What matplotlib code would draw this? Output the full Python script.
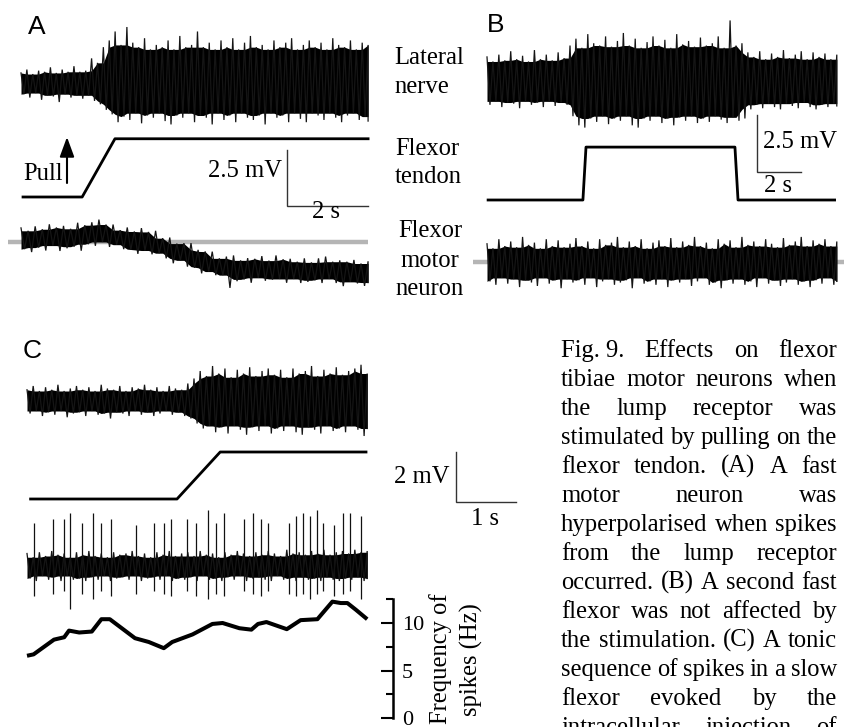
import numpy as np
import matplotlib
matplotlib.use("Agg")
import matplotlib.pyplot as plt
from matplotlib.patches import FancyArrowPatch

plt.rcParams['font.family'] = ['Liberation Serif', 'DejaVu Serif']
SANS = ['Liberation Sans', 'DejaVu Sans']

# ---------------- data ----------------
# Panel A  (time in s, voltage in mV)
a_duration = 8.57
a_lat_upper = [0.45, 0.6, 0.4, 0.55, 0.5, 0.7, 0.45, 0.6, 0.5, 0.75, 0.5, 0.55,
               1.1, 0.9, 1.6, 1.9, 2.3, 1.7,
               2.5, 1.8, 1.6, 2.0, 1.5, 1.7, 1.6, 1.9, 1.5, 2.1,
               1.6, 1.7, 2.3, 1.6, 1.8, 1.5, 1.9, 1.6, 2.0, 1.5,
               1.8, 2.1, 1.6, 1.7, 1.5, 1.9, 1.6, 1.8, 2.0, 1.5,
               1.7, 1.9, 1.6, 1.8, 1.5, 2.0, 1.7, 1.6, 1.9, 1.5,
               1.8, 1.7]
a_lat_lower = [-0.5, -0.65, -0.45, -0.75, -0.55, -0.6, -0.85, -0.5, -0.65, -0.55, -0.7, -0.55,
               -0.8, -0.95, -1.2, -1.4, -1.75, -1.5,
               -1.65, -1.35, -1.8, -1.45, -1.55, -1.35, -1.7, -1.85, -1.45, -1.55,
               -1.35, -1.75, -1.45, -1.55, -1.85, -1.35, -1.65, -1.45, -1.75, -1.35,
               -1.55, -1.65, -1.45, -1.85, -1.35, -1.55, -1.45, -1.75, -1.35, -1.6,
               -1.75, -1.35, -1.45, -1.65, -1.35, -1.55, -1.75, -1.45, -1.35, -1.65,
               -1.5, -1.7]
a_tendon_t = [0.05, 1.51, 2.32, 8.57]
a_tendon_v = [0.0, 0.0, 2.6, 2.6]
a_mn_upper = [0.63, 0.50, 0.70, 0.57, 0.79, 0.65, 0.72, 0.59, 0.86, 0.75,
              0.88, 1.00, 0.78, 0.78, 0.53, 0.65, 0.47, 0.62, 0.45, 0.50,
              0.17, 0.20, -0.07, -0.05, -0.05, -0.35, -0.42, -0.43, -0.73, -0.65,
              -0.60, -0.82, -0.72, -0.75, -0.63, -0.83, -0.60, -0.77, -0.75, -0.88,
              -0.73, -0.91, -0.73, -0.65, -0.88, -0.82, -0.88, -0.80, -0.96, -0.86]
a_mn_lower = [-0.32, -0.45, -0.25, -0.38, -0.16, -0.40, -0.28, -0.21, -0.39, -0.10,
              -0.17, 0.00, -0.22, -0.12, -0.32, -0.35, -0.53, -0.38, -0.55, -0.50,
              -0.73, -0.95, -0.82, -1.10, -1.15, -1.40, -1.32, -1.48, -1.48, -2.05,
              -1.75, -1.67, -1.82, -1.60, -1.73, -1.68, -1.65, -1.82, -1.65, -1.83,
              -1.78, -1.71, -1.83, -1.65, -1.83, -1.97, -1.78, -1.85, -1.96, -1.81]

# Panel B
b_duration = 15.9
b_lat_upper = [1.1, 0.9, 1.2, 0.95, 1.35, 1.0, 1.15, 0.9, 1.4, 1.0, 1.2, 0.95, 1.3, 1.05,
               1.6, 1.9, 1.5, 2.1, 1.7, 1.6, 2.0, 1.55, 1.8, 2.15,
               1.6, 1.9, 1.5, 1.75, 2.0, 1.6, 1.85, 1.5, 2.1, 1.65,
               1.8, 1.55, 1.95, 1.6, 1.7, 2.0, 1.5, 2.7, 1.6, 1.7,
               1.3, 1.1, 1.35, 1.0, 1.25, 1.1, 1.4, 1.05, 1.2, 1.35, 1.0, 1.3, 1.1, 1.25, 1.0, 1.2]
b_lat_lower = [-1.0, -0.85, -1.1, -0.9, -0.95, -1.15, -0.85, -1.0, -0.9, -1.1, -0.85, -1.05, -0.9, -1.0,
               -1.5, -1.9, -2.0, -1.6, -1.75, -1.5, -1.85, -1.6, -1.7, -1.5,
               -1.9, -2.0, -1.6, -1.7, -1.5, -1.8, -1.6, -1.9, -1.55, -1.7,
               -1.5, -1.8, -1.6, -1.75, -1.5, -1.65, -1.8, -1.55, -1.7, -1.6,
               -1.2, -1.0, -1.15, -0.95, -1.1, -1.2, -0.95, -1.05, -1.15, -0.9, -1.1, -1.2, -1.0, -1.1, -0.95, -1.05]
b_tendon_t = [0.05, 4.36, 4.5, 11.27, 11.41, 15.8]
b_tendon_v = [0.0, 0.0, 2.32, 2.32, 0.0, 0.0]
b_mn_upper = [0.8, 0.6, 1.0, 0.7, 0.9, 0.65, 1.1, 0.75, 0.85, 0.6,
              1.0, 0.7, 0.95, 0.65, 0.8, 1.05, 0.7, 0.9, 0.6, 1.0,
              0.75, 0.85, 1.1, 0.65, 0.9, 0.7, 1.0, 0.6, 0.85, 0.95,
              0.7, 1.05, 0.65, 0.9, 0.75, 1.1, 0.7, 0.85, 0.6, 1.0,
              0.8, 0.95, 0.65, 1.1, 0.75, 0.9, 0.7, 1.0, 0.8, 0.65,
              1.05, 0.75, 0.9, 1.1, 0.7, 0.95, 0.8, 1.0, 0.7, 0.9]
b_mn_lower = [-0.85, -1.0, -0.7, -0.95, -0.75, -1.1, -0.8, -0.9, -1.05, -0.7,
              -0.95, -0.8, -1.15, -0.75, -0.9, -0.8, -1.0, -0.7, -1.1, -0.85,
              -0.75, -1.0, -0.9, -0.8, -1.15, -0.7, -0.95, -0.85, -1.0, -0.75,
              -1.1, -0.8, -0.9, -0.75, -1.05, -0.85, -0.7, -1.0, -0.9, -1.15,
              -0.8, -0.95, -0.75, -1.0, -0.85, -1.1, -0.7, -0.95, -0.8, -1.05,
              -0.9, -0.75, -1.0, -0.85, -1.1, -0.8, -0.95, -0.7, -1.0, -0.85]

# Panel C
c_duration = 5.67
c_nerve_upper = [0.45, 0.6, 0.4, 0.55, 0.45, 0.65, 0.4, 0.5, 0.6, 0.45,
                 0.55, 0.4, 0.65, 0.5, 0.45, 0.6, 0.4, 0.55, 0.5, 0.65,
                 0.45, 0.55, 0.4, 0.6, 0.5, 0.45, 0.7,
                 0.9, 1.2, 1.0, 1.4, 1.1, 1.3, 0.95, 1.25, 1.1, 1.35,
                 1.0, 1.2, 1.3, 1.05, 1.25, 0.95, 1.3, 1.1, 1.2, 1.4,
                 1.0, 1.25, 1.1, 1.35, 1.05, 1.2, 1.3, 1.45, 1.1]
c_nerve_lower = [-0.5, -0.4, -0.6, -0.45, -0.55, -0.4, -0.65, -0.5, -0.45, -0.6,
                 -0.4, -0.55, -0.5, -0.7, -0.45, -0.5, -0.6, -0.4, -0.55, -0.45,
                 -0.6, -0.5, -0.4, -0.55, -0.45, -0.6, -0.7,
                 -0.9, -1.1, -1.0, -1.25, -1.05, -1.3, -1.0, -1.15, -1.35, -1.05,
                 -1.2, -1.0, -1.3, -1.1, -1.2, -1.0, -1.25, -1.35, -1.05, -1.15,
                 -1.3, -1.0, -1.2, -1.1, -1.25, -1.0, -1.15, -1.4, -1.1]
c_tendon_t = [0.06, 2.50, 3.22, 5.65]
c_tendon_v = [0.0, 0.0, 1.88, 1.88]
c_mn_upper = [0.5, 0.35, 0.55, 0.4, 0.6, 0.45, 0.5, 0.35, 0.55, 0.45,
              0.6, 0.4, 0.5, 0.35, 0.55, 0.45, 0.5, 0.6, 0.4, 0.5,
              0.35, 0.55, 0.45, 0.6, 0.4, 0.5, 0.55, 0.4, 0.6, 0.45,
              0.5, 0.35, 0.55, 0.45, 0.6, 0.5, 0.4, 0.55, 0.45, 0.6,
              0.5, 0.4, 0.65, 0.5, 0.55, 0.45, 0.6, 0.5, 0.65, 0.45,
              0.55, 0.6, 0.5, 0.65, 0.55, 0.6]
c_mn_lower = [-0.5, -0.6, -0.4, -0.55, -0.45, -0.6, -0.4, -0.55, -0.5, -0.6,
              -0.45, -0.55, -0.4, -0.6, -0.5, -0.45, -0.55, -0.4, -0.6, -0.5,
              -0.45, -0.55, -0.4, -0.6, -0.5, -0.55, -0.45, -0.6, -0.4, -0.55,
              -0.5, -0.6, -0.45, -0.55, -0.4, -0.6, -0.5, -0.45, -0.55, -0.6,
              -0.4, -0.55, -0.5, -0.6, -0.45, -0.55, -0.5, -0.6, -0.45, -0.55,
              -0.6, -0.5, -0.55, -0.45, -0.6, -0.5]
c_spike_t = [0.11, 0.43, 0.61, 0.72, 0.91, 1.10, 1.23, 1.40, 1.82, 2.11, 2.28, 2.40,
             2.67, 2.82, 3.02, 3.15, 3.29, 3.61, 3.77, 3.90, 4.02, 4.36, 4.48, 4.60,
             4.72, 4.83, 4.93, 5.12, 5.26, 5.38, 5.56]
c_spike_peak = [1.73, 1.87, 1.87, 2.11, 1.73, 2.11, 1.73, 1.87, 1.64, 1.73, 1.73, 1.87,
                1.87, 1.73, 2.24, 1.73, 2.11, 1.87, 2.11, 1.87, 1.73, 1.73, 2.0, 2.11,
                2.0, 2.24, 1.73, 1.64, 2.11, 2.11, 2.0]
c_spike_trough = [-1.2, -1.1, -1.0, -1.7, -1.1, -1.3, -1.0, -1.2, -1.1, -1.0, -1.1, -1.2,
                  -1.0, -1.2, -1.3, -1.1, -1.2, -1.0, -1.1, -1.2, -1.0, -1.1, -1.2, -1.1,
                  -1.3, -1.1, -1.0, -1.2, -1.1, -1.0, -1.3]
freq_t = [0.0, 0.11, 0.45, 0.62, 0.70, 0.87, 1.08, 1.24, 1.38, 1.80, 2.03, 2.28, 2.42,
          2.76, 3.09, 3.26, 3.54, 3.74, 3.85, 3.99, 4.33, 4.56, 4.84, 5.09, 5.23, 5.34,
          5.48, 5.67]
freq_hz = [6.55, 6.7, 8.25, 8.5, 9.2, 9.0, 9.1, 10.4, 10.4, 8.4, 8.0, 7.35, 8.0,
           8.8, 9.9, 10.0, 9.45, 9.3, 9.9, 10.1, 9.35, 10.3, 10.4, 12.25, 12.1, 12.1,
           11.4, 10.4]
freq_ticks = [0, 5, 10]
freq_minor_ticks = [2.5, 7.5, 12.5]

row_labels = [["Lateral", "nerve"], ["Flexor", "tendon"], ["Flexor", "motor", "neuron"]]
caption_lines = [
    "Fig.\u00a09. Effects on flexor",
    "tibiae motor neurons when",
    "the lump receptor was",
    "stimulated by pulling on the",
    "flexor tendon. (A) A fast",
    "motor neuron was",
    "hyperpolarised when spikes",
    "from the lump receptor",
    "occurred. (B) A second fast",
    "flexor was not affected by",
    "the stimulation. (C) A tonic",
    "sequence of spikes in a slow",
    "flexor evoked by the",
    "intracellular injection of",
]

# ---------------- layout ----------------
W, H = 844, 727
fig = plt.figure(figsize=(W / 100, H / 100), dpi=100)
_n = [0]


def trace_axes(x0, y0, xscale, yscale, off=True):
    """Axes covering the figure; (t=0, v=0) sits at pixel (x0, y0) from top-left."""
    _n[0] += 1
    ax = fig.add_axes([0, 0, 1, 1], label=f"ax{_n[0]}")
    ax.set_xlim(-x0 / xscale, (W - x0) / xscale)
    ax.set_ylim(-(H - y0) / yscale, y0 / yscale)
    ax.patch.set_alpha(0)
    if off:
        ax.axis('off')
    return ax


def recording(ax, duration, upper, lower):
    """Dense core (local inner envelope) plus a zig-zag trace reaching the extremes."""
    up = np.asarray(upper, float)
    lo = np.asarray(lower, float)
    n = len(up)
    t = np.linspace(0, duration, n)
    dt = duration / (n - 1)
    upp = np.pad(up, 1, mode='edge')
    lop = np.pad(lo, 1, mode='edge')
    core_up = np.minimum.reduce([upp[:-2], upp[1:-1], upp[2:]])
    core_lo = np.maximum.reduce([lop[:-2], lop[1:-1], lop[2:]])
    ax.fill_between(t, core_lo, core_up, color='black', lw=0, zorder=2)
    tz = np.empty(2 * n)
    vz = np.empty(2 * n)
    tz[0::2] = t
    tz[1::2] = np.minimum(t + dt / 2, duration)
    vz[0::2] = up
    vz[1::2] = lo
    ax.plot(tz, vz, color='#151515', lw=0.9, solid_joinstyle='miter', zorder=3)


def scale_bar(ax, t0, v0, dt, dv, lw=1.0):
    ax.plot([t0, t0, t0 + dt], [v0 + dv, v0, v0], color='#333333', lw=lw,
            solid_joinstyle='miter')


def txt(x, y, s, **kw):
    kw.setdefault('va', 'baseline')
    return fig.text(x / W, 1 - y / H, s, **kw)


FS = 17.7
GRAY = '#b5b5b5'

# ---- Panel A ----
A_PPS, A_PPM = 40.5, 22.4
ax = trace_axes(21, 83, A_PPS, A_PPM)
recording(ax, a_duration, a_lat_upper, a_lat_lower)
ax = trace_axes(21, 197, A_PPS, A_PPM)
ax.plot(a_tendon_t, a_tendon_v, color='black', lw=2.0)
scale_bar(ax, 6.57, -0.4, 2.0, 2.5)
ax = trace_axes(21, 242, A_PPS, A_PPM)
ax.hlines(0, -0.32, a_duration, color=GRAY, lw=3.2, zorder=0)
recording(ax, a_duration, a_mn_upper, a_mn_lower)

# ---- Panel B ----
B_PPS, B_PPM = 22.0, 22.8
ax = trace_axes(487, 82, B_PPS, B_PPM)
recording(ax, b_duration, b_lat_upper, b_lat_lower)
ax = trace_axes(487, 200, B_PPS, B_PPM)
ax.plot(b_tendon_t, b_tendon_v, color='black', lw=2.0)
scale_bar(ax, 12.27, 1.23, 2.0, 2.5)
ax = trace_axes(487, 262, B_PPS, B_PPM)
ax.hlines(0, -0.64, 16.3, color=GRAY, lw=3.2, zorder=0)
recording(ax, b_duration, b_mn_upper, b_mn_lower)

# ---- Panel C ----
C_PPS, C_PPM = 60.0, 25.0
ax = trace_axes(27, 401, C_PPS, C_PPM)
recording(ax, c_duration, c_nerve_upper, c_nerve_lower)
ax = trace_axes(27, 499, C_PPS, C_PPM)
ax.plot(c_tendon_t, c_tendon_v, color='black', lw=2.0)
scale_bar(ax, 7.15, -0.12, 1.0, 2.0)
ax = trace_axes(27, 566, C_PPS, C_PPM)
recording(ax, c_duration, c_mn_upper, c_mn_lower)
ax.vlines(c_spike_t, c_spike_trough, c_spike_peak, color='#111111', lw=0.9, zorder=4)

axf = trace_axes(27, 718, C_PPS, 9.5, off=False)
axf.plot(freq_t, freq_hz, color='black', lw=2.9, solid_joinstyle='round',
         solid_capstyle='butt')
for side in ['left', 'top', 'bottom']:
    axf.spines[side].set_visible(False)
axf.spines['right'].set_position(('data', 6.1))
axf.spines['right'].set_bounds(0, 12.5)
axf.spines['right'].set_linewidth(1.8)
axf.yaxis.tick_right()
axf.set_xticks([])
axf.set_yticks(freq_ticks)
axf.set_yticks(freq_minor_ticks, minor=True)
axf.set_yticklabels([str(v) for v in freq_ticks])
axf.tick_params(axis='y', which='major', direction='in', length=9, width=1.5,
                pad=6.5, labelsize=16)
axf.tick_params(axis='y', which='minor', direction='in', length=5.2, width=1.5)

# ---- text ----
txt(28, 34, "A", family=SANS, size=19)
txt(487, 32, "B", family=SANS, size=19)
txt(23, 358, "C", family=SANS, size=19)

txt(394, 64, row_labels[0][0], size=FS)
txt(394, 93, row_labels[0][1], size=FS)
txt(395, 155, row_labels[1][0], size=FS)
txt(395, 183, row_labels[1][1], size=FS)
for yy, word in zip([237, 267, 295], row_labels[2]):
    txt(430, yy, word, size=FS, ha='center')

txt(23, 180, "Pull", size=FS)
fig.add_artist(FancyArrowPatch(
    posA=(67 / W, 1 - 183 / H), posB=(67 / W, 1 - 137 / H),
    transform=fig.transFigure, arrowstyle='-|>,head_length=0.6,head_width=0.22',
    mutation_scale=20, color='black', lw=1.5, shrinkA=0, shrinkB=0))

txt(282, 177, "2.5 mV", size=FS, ha='right')
txt(326, 218, "2 s", size=FS, ha='center')
txt(763, 148, "2.5 mV", size=FS)
txt(778, 192, "2 s", size=FS, ha='center')
txt(450, 483, "2 mV", size=FS, ha='right')
txt(485, 525, "1 s", size=FS, ha='center')

txt(441, 659, "Frequency of", size=FS, rotation=90, ha='center', va='center')
txt(471, 660, "spikes (Hz)", size=FS, rotation=90, ha='center', va='center')

# ---- justified caption ----
renderer = fig.canvas.get_renderer()
CAP_L, CAP_R, CAP_Y0, CAP_DY = 561, 837, 357, 29


def word_width(w):
    t = fig.text(0, 0, w, size=FS)
    wd = t.get_window_extent(renderer).width
    t.remove()
    return wd


for i, line in enumerate(caption_lines):
    words = line.split(' ')
    widths = [word_width(w) for w in words]
    gap = (CAP_R - CAP_L - sum(widths)) / max(len(words) - 1, 1)
    x = CAP_L
    for w, wd in zip(words, widths):
        txt(x, CAP_Y0 + i * CAP_DY, w, size=FS)
        x += wd + gap

fig.savefig("out.png", dpi=100)
